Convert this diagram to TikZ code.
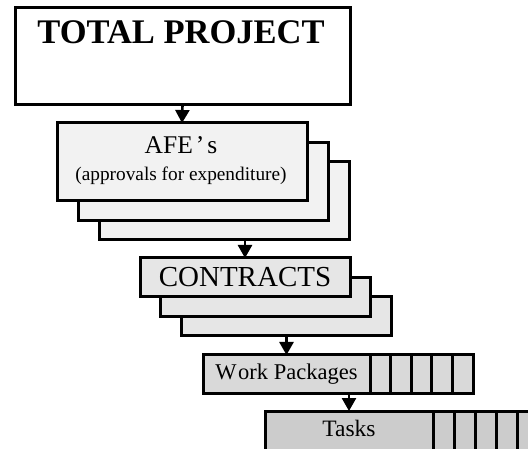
\documentclass[tikz,border=0pt]{standalone}
\usepackage{fontspec}
\setmainfont{Liberation Serif}
\usetikzlibrary{arrows.meta}
\definecolor{afefill}{HTML}{F2F2F2}
\definecolor{confill}{HTML}{E6E6E6}
\definecolor{wpfill}{HTML}{D9D9D9}
\definecolor{taskfill}{HTML}{CCCCCC}
\begin{document}
\begin{tikzpicture}[x=1pt,y=-1pt,
  box/.style={draw=black,line width=3pt,inner sep=0pt,outer sep=0pt},
  afebox/.style={box,fill=afefill,minimum width=250pt,minimum height=78pt},
  conbox/.style={box,fill=confill,minimum width=210pt,minimum height=39pt,font=\fontsize{29}{31}\selectfont},
  wpcell/.style={box,fill=wpfill,minimum width=20.6pt,minimum height=38pt,anchor=west},
  taskcell/.style={box,fill=taskfill,minimum width=21pt,minimum height=50pt,anchor=west},
  conn/.style={line width=2.6pt,-{Triangle[width=14pt,length=13pt]}}
]
\useasboundingbox (0,0) rectangle (528,449);
\clip (0,0) rectangle (528,449);

% TOTAL PROJECT
\node[box,fill=white,minimum width=335pt,minimum height=97pt] (total) at (182.5,56.5) {};
\node[font=\fontsize{34.5}{37}\bfseries\selectfont] (totaltext) at (181,32.5) {TOTAL PROJECT};

% AFE stack
\node[afebox] (afe3) at (224,200.5) {};
\node[afebox] (afe2) at (203,181.5) {};
\node[afebox] (afe1) at (182,162) {};
\node[font=\fontsize{25.5}{28}\selectfont] (afetitle) at (181,145) {AFE\hspace{3pt}’\hspace{3pt}s};
\node[font=\fontsize{19.3}{22}\selectfont] (afesub) at (181,175.5) {(approvals for expenditure)};

% CONTRACTS stack
\node[conbox] (con3) at (286.5,316.5) {};
\node[conbox] (con2) at (265.5,297.5) {};
\node[conbox] (con1) at (245,277.5) {CONTRACTS};

% Work Packages
\node[box,fill=wpfill,minimum width=167pt,minimum height=38pt,font=\fontsize{22.5}{25}\selectfont] (wp) at (286.5,374) {W\hspace{1.5pt}ork Packages};
\node[wpcell] (wpc1) at (wp.east) {};
\node[wpcell] (wpc2) at (wpc1.east) {};
\node[wpcell] (wpc3) at (wpc2.east) {};
\node[wpcell] (wpc4) at (wpc3.east) {};
\node[wpcell] (wpc5) at (wpc4.east) {};

% Tasks
\node[box,fill=taskfill,minimum width=168pt,minimum height=50pt] (tasks) at (349,436) {};
\node[taskcell] (tc1) at (tasks.east) {};
\node[taskcell] (tc2) at (tc1.east) {};
\node[taskcell] (tc3) at (tc2.east) {};
\node[taskcell] (tc4) at (tc3.east) {};
\node[taskcell] (tc5) at (tc4.east) {};
\node[font=\fontsize{23.5}{26}\selectfont] (taskstext) at (349,428.5) {Tasks};

% connectors
\draw[conn] (total.south) -- (afe1.north);
\draw[conn] (con1.north |- afe3.south) -- (con1.north);
\draw[conn] (con3.south) -- (wp.north);
\draw[conn] (tasks.north |- wp.south) -- (tasks.north);
\end{tikzpicture}
\end{document}
